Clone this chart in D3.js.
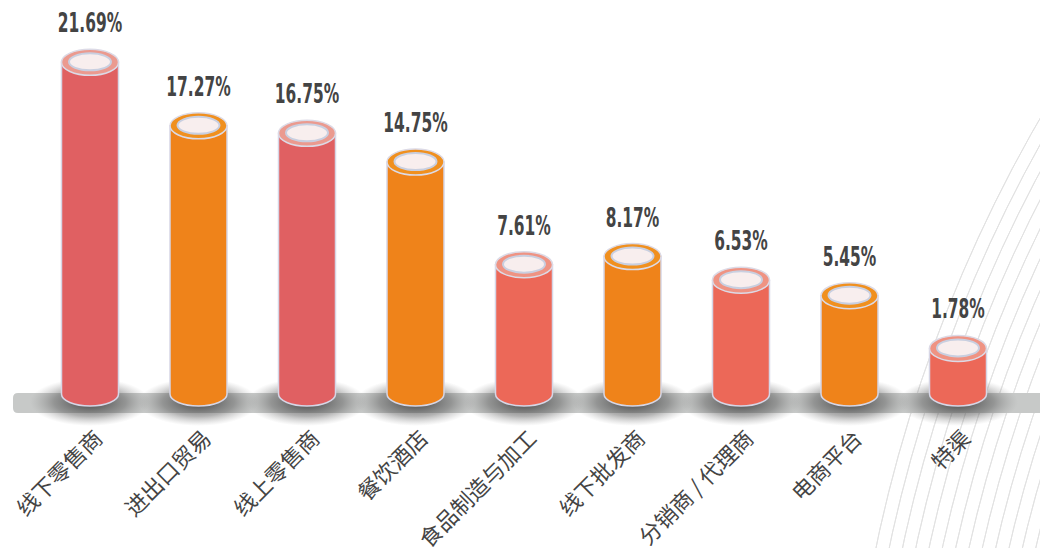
<!DOCTYPE html>
<html lang="zh">
<head>
  <meta charset="UTF-8">
  <title>渠道分布</title>
  <script src="https://cdn.jsdelivr.net/npm/d3@7"></script>
  <style>
    body { margin: 0; background: #fff; }
    .val { font-family: "DejaVu Sans Condensed", "DejaVu Sans", sans-serif; font-weight: bold; fill: #444; }
    .cat { font-family: "Noto Sans CJK SC", sans-serif; fill: #444; }
  </style>
</head>
<body>
<svg width="1040" height="548"></svg>
<script>
// data
var categories = ["线下零售商", "进出口贸易", "线上零售商", "餐饮酒店", "食品制造与加工", "线下批发商", "分销商 / 代理商", "电商平台", "特渠"];
var values = [21.69, 17.27, 16.75, 14.75, 7.61, 8.17, 6.53, 5.45, 1.78];

var palette = ["#e06062", "#ef831a", "#e06062", "#ef831a", "#ec6858", "#ef831a", "#ec6858", "#ef831a", "#ec6858"];
var rims    = ["#eb9a8f", "#f0901f", "#eb9a8f", "#f0901f", "#ef9383", "#f0901f", "#ef9383", "#f0901f", "#ef9383"];

var svg = d3.select("svg");
var base = 394;          // centre of the bottom ellipse
var rx = 28.5, ry = 12;

var x = d3.scalePoint().domain(categories).range([90, 958]);
var y = d3.scaleLinear().domain([0, 20]).range([374, 86.6]);

var defs = svg.append("defs");
var sh = defs.append("radialGradient").attr("id", "shadow");
sh.append("stop").attr("offset", "0%").attr("stop-color", "#2a2a2a").attr("stop-opacity", 0.85);
sh.append("stop").attr("offset", "60%").attr("stop-color", "#555").attr("stop-opacity", 0.45);
sh.append("stop").attr("offset", "100%").attr("stop-color", "#888").attr("stop-opacity", 0);

// decorative arcs, bottom right
var arcs = svg.append("g").attr("fill", "none").attr("stroke", "#e2e2e2").attr("stroke-width", 1);
d3.range(14).forEach(function(i) {
  arcs.append("path")
    .attr("d", d3.arc()({innerRadius: 1455 - i * 13, outerRadius: 1455 - i * 13, startAngle: -Math.PI / 2 - 0.1, endAngle: -Math.PI / 2 + 0.75}))
    .attr("transform", "translate(2300,846)");
});

// ground band
svg.append("path")
  .attr("d", "M13,398 Q13,393 18,393 L1040,393 L1040,413 L18,413 Q13,413 13,408 Z")
  .attr("fill", "#c7c9c8");

var g = svg.selectAll(".bar").data(values).enter().append("g").attr("class", "bar");

g.append("ellipse")
  .attr("cx", (d, i) => x(categories[i]))
  .attr("cy", base + 8)
  .attr("rx", 60).attr("ry", 24)
  .attr("fill", "url(#shadow)");

g.append("path")
  .attr("d", function(d, i) {
    var cx = x(categories[i]), top = y(d);
    return "M" + (cx - rx) + "," + top + " L" + (cx - rx) + "," + base +
      " A" + rx + "," + ry + " 0 0 0 " + (cx + rx) + "," + base +
      " L" + (cx + rx) + "," + top + " Z";
  })
  .attr("fill", (d, i) => palette[i])
  .attr("stroke", "#d6d6e6").attr("stroke-width", 1.5);

g.append("ellipse")
  .attr("cx", (d, i) => x(categories[i]))
  .attr("cy", d => y(d))
  .attr("rx", rx).attr("ry", ry + 1)
  .attr("fill", (d, i) => rims[i])
  .attr("stroke", "#dcdae6").attr("stroke-width", 1.5);

g.append("ellipse")
  .attr("cx", (d, i) => x(categories[i]))
  .attr("cy", d => y(d) - 0.5)
  .attr("rx", 21).attr("ry", 8.5)
  .attr("fill", "#f8eeee")
  .attr("stroke", "#c9cfe0").attr("stroke-width", 2);

// narrow bold figures: squeeze the condensed face horizontally
g.append("text")
  .attr("class", "val")
  .attr("transform", (d, i) => "translate(" + x(categories[i]) + "," + (y(d) - 30) + ") scale(0.66,1)")
  .attr("text-anchor", "middle")
  .attr("font-size", 26)
  .text(d => d.toFixed(2) + "%");

svg.selectAll(".cat").data(categories).enter().append("text")
  .attr("class", "cat")
  .attr("font-size", 22)
  .attr("text-anchor", "end")
  .attr("transform", d => "translate(" + (x(d) + 14) + ",440) rotate(-45)")
  .text(d => d);
</script>
</body>
</html>
